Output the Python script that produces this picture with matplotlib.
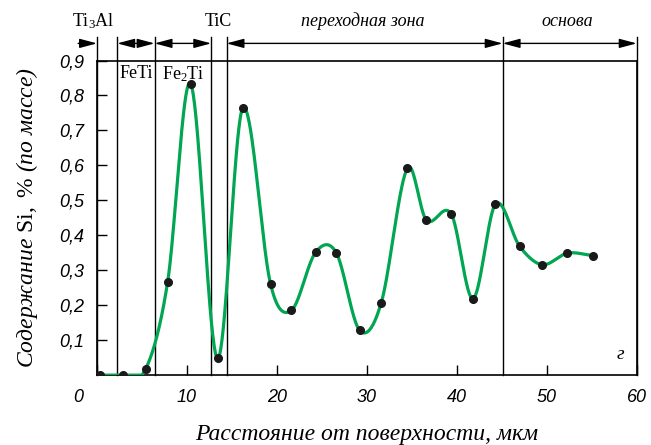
import numpy as np
import matplotlib
matplotlib.use('Agg')
import matplotlib.pyplot as plt
from matplotlib.transforms import ScaledTranslation

# measured points: distance from surface (um) vs Si content (wt %)
dist = [0.3, 2.85, 5.4, 7.85, 10.4, 13.4, 16.2, 19.3, 21.6, 24.3, 26.6,
        29.2, 31.6, 34.5, 36.6, 39.4, 41.8, 44.3, 47.0, 49.5, 52.3, 55.1]
si = [0.0, 0.0, 0.017, 0.266, 0.834, 0.048, 0.763, 0.26, 0.185, 0.351, 0.35,
      0.128, 0.207, 0.592, 0.444, 0.46, 0.219, 0.489, 0.368, 0.316, 0.349, 0.342]

# zone boundaries and labels
zone_edges = [2.25, 6.4, 12.7, 14.4, 45.1]
xticks = [0, 10, 20, 30, 40, 50, 60]
xtick_labels = ['0', '10', '20', '30', '40', '50', '60']
yticks = [0.1, 0.2, 0.3, 0.4, 0.5, 0.6, 0.7, 0.8, 0.9]
ytick_labels = ['0,1', '0,2', '0,3', '0,4', '0,5', '0,6', '0,7', '0,8', '0,9']


def smooth(x, y, n=40):
    # Catmull-Rom style cubic through the points
    x = np.asarray(x, float)
    y = np.asarray(y, float)
    m = np.zeros_like(y)
    m[1:-1] = (y[2:] - y[:-2]) / (x[2:] - x[:-2])
    m[0] = (y[1] - y[0]) / (x[1] - x[0])
    m[-1] = (y[-1] - y[-2]) / (x[-1] - x[-2])
    xs, ys = [], []
    for i in range(len(x) - 1):
        h = x[i + 1] - x[i]
        t = np.linspace(0, 1, n)
        h00 = 2 * t**3 - 3 * t**2 + 1
        h10 = t**3 - 2 * t**2 + t
        h01 = -2 * t**3 + 3 * t**2
        h11 = t**3 - t**2
        xs.append(x[i] + t * h)
        ys.append(h00 * y[i] + h10 * h * m[i] + h01 * y[i + 1] + h11 * h * m[i + 1])
    return np.concatenate(xs), np.maximum(np.concatenate(ys), 0)


serif = 'Liberation Serif'
sans = 'Liberation Sans'
plt.rcParams['mathtext.fontset'] = 'custom'
plt.rcParams['mathtext.rm'] = serif
plt.rcParams['mathtext.it'] = serif + ':italic'

fig = plt.figure(figsize=(6.51, 4.45), dpi=100)
ax = fig.add_axes([0.149, 0.157, 0.829, 0.707])

xs, ys = smooth(dist, si)
ax.plot(xs, ys, color='#00a651', lw=2.3, zorder=3)
ax.plot(dist, si, 'o', color='#1a1a1a', ms=5.5, zorder=4)

ax.set_xlim(0, 60)
ax.set_ylim(0, 0.9)

top = 0.966
for xe in zone_edges + [0, 60]:
    ax.plot([xe, xe], [0, top], color='black', lw=1, clip_on=False, zorder=2)

arrow = dict(color='black', lw=1, shrinkA=0, shrinkB=0, mutation_scale=14)
ya = 0.949
ax.annotate('', xy=(0, ya), xytext=(-2.1, ya), annotation_clip=False,
            arrowprops=dict(arrowstyle='-|>,head_length=0.75,head_width=0.2', **arrow))
for a, b in [(2.25, 6.4), (6.4, 12.7), (14.4, 45.1), (45.1, 60)]:
    ax.annotate('', xy=(b, ya), xytext=(a, ya), annotation_clip=False,
                arrowprops=dict(arrowstyle='<|-|>,head_length=0.75,head_width=0.2', **arrow))

ax.text(-0.4, 1.012, r'Ti$_\mathrm{3}$Al', family=serif, fontsize=13, ha='center', va='center', clip_on=False)
ax.text(13.5, 1.012, 'TiC', family=serif, fontsize=13, ha='center', va='center', clip_on=False)
ax.text(29.6, 1.012, 'переходная зона', family=serif, style='italic', fontsize=13,
        ha='center', va='center', clip_on=False)
ax.text(52.3, 1.012, 'основа', family=serif, style='italic', fontsize=13,
        ha='center', va='center', clip_on=False)
ax.text(4.35, 0.862, 'FeTi', family=serif, fontsize=13, ha='center', va='center')
ax.text(9.6, 0.862, r'Fe$_\mathrm{2}$Ti', family=serif, fontsize=13, ha='center', va='center')
ax.text(58.2, 0.06, 'г', family=serif, style='italic', fontsize=14, ha='center', va='center')

ax.set_xticks(xticks)
ax.set_xticklabels(xtick_labels, family=sans, style='italic', fontsize=13)
ax.set_yticks(yticks)
ax.set_yticklabels(ytick_labels, family=sans, style='italic', fontsize=13)
ax.tick_params(direction='in', length=7, width=1, color='black')
ax.tick_params(axis='x', pad=10)
ax.tick_params(axis='y', pad=9)
lbl0 = ax.get_xticklabels()[0]
lbl0.set_transform(lbl0.get_transform() + ScaledTranslation(-19 / 100, 0, fig.dpi_scale_trans))

for s in ax.spines.values():
    s.set_linewidth(1.2)

ax.set_xlabel('Расстояние от поверхности, мкм', family=serif, style='italic', fontsize=17, labelpad=13)
ax.set_ylabel(r'Содержание $\mathrm{Si,}$ $\mathrm{\%}$ (по массе)', family=serif, style='italic',
              fontsize=17, labelpad=14)

fig.savefig('out.png', dpi=100)
